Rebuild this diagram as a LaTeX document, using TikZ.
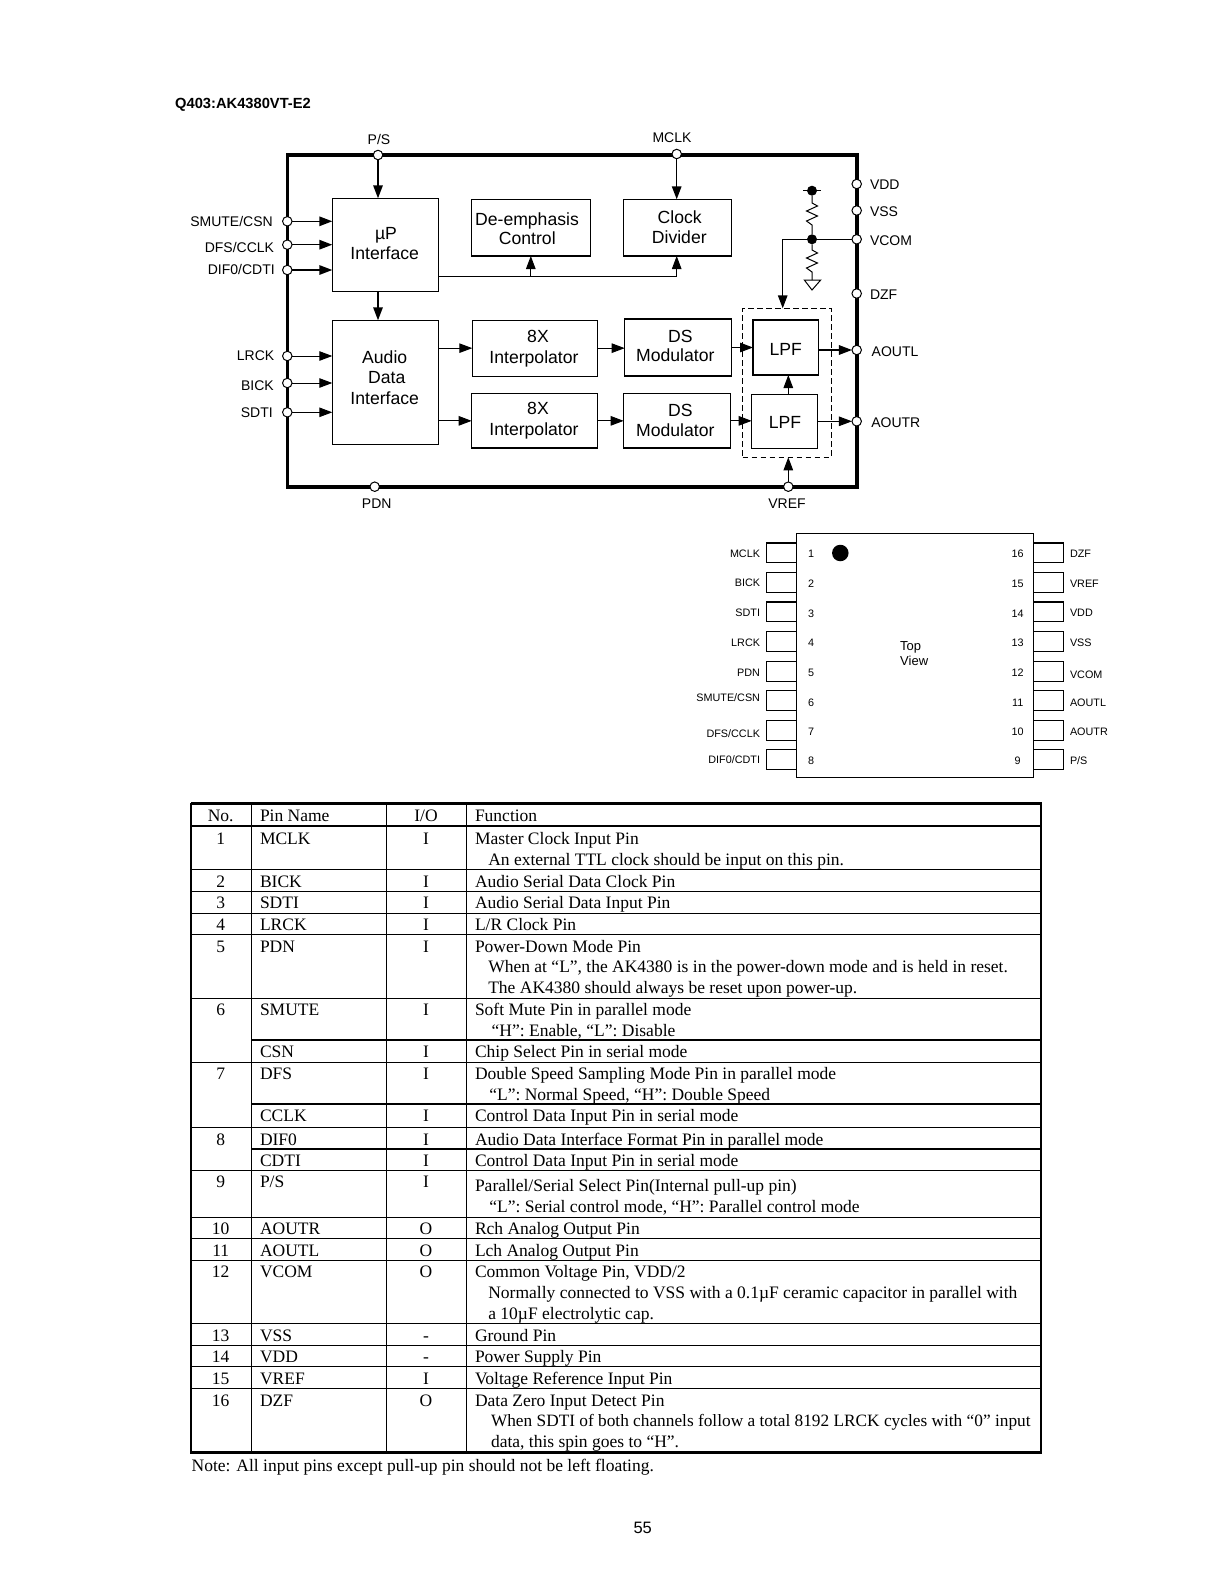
\documentclass[tikz,border=0pt]{standalone}
\usepackage{fontspec}
\setmainfont{Liberation Serif}
\newfontfamily\arialf{Liberation Sans}
\usetikzlibrary{arrows.meta,calc}
\newcounter{tnum}
\tikzset{
  px/.style={x=1pt,y=-1pt},
  thickbox/.style={draw,line width=1.5pt,inner sep=0pt,outer sep=0pt},
  thinbox/.style={draw,line width=1pt,inner sep=0pt,outer sep=0pt},
  pinc/.style={circle,draw,fill=white,line width=1pt,minimum size=9.5pt,inner sep=0pt,outer sep=0pt},
  jdot/.style={circle,fill=black,minimum size=10pt,inner sep=0pt,outer sep=0pt},
  arr/.style={-{Triangle[length=13pt,width=9.5pt]},line width=1.5pt},
  arrthin/.style={-{Triangle[length=13pt,width=9.5pt]},line width=1pt},
  wire/.style={line width=1pt},
  lab/.style={font=\arialf\fontsize{14}{14}\selectfont,inner sep=0pt,outer sep=0pt,text height=10pt,text depth=0pt},
  boxt/.style={font=\arialf\fontsize{17.6}{18}\selectfont,inner sep=0pt,outer sep=0pt,text height=12.6pt,text depth=0pt},
  small/.style={font=\arialf\fontsize{10.8}{11}\selectfont,inner sep=0pt,outer sep=0pt,text height=7.8pt,text depth=0pt},
  tabt/.style={font=\fontsize{17.5}{18}\selectfont,inner sep=0pt,outer sep=0pt},
  rowline/.style={line width=.9pt},
  rowthick/.style={line width=1.7pt}
}
% box by corners
\newcommand{\bx}[6]{\node[#6,minimum width={(#4-#2)*1pt},minimum height={(#5-#3)*1pt}] (#1) at ({(#2+#4)/2},{(#3+#5)/2}) {};}
\newcommand{\TL}[3]{\stepcounter{tnum}\node[tabt,anchor=base west] (t\arabic{tnum}) at (#1,#2+.5) {#3};}
\newcommand{\TC}[3]{\stepcounter{tnum}\node[tabt,anchor=base] (t\arabic{tnum}) at (#1,#2+.5) {#3};}
\newcommand{\BT}[3]{\stepcounter{tnum}\node[boxt] (t\arabic{tnum}) at (#1,#2) {#3};}
\begin{document}
\begin{tikzpicture}[px]
\useasboundingbox (0,0) rectangle (1219,1582);
\fill[white] (0,0) rectangle (1219,1582);
% title
\node[font=\arialf\bfseries\fontsize{14.7}{15}\selectfont,anchor=base west,inner sep=0pt] (title) at (175,108.3) {Q403:AK4380VT-E2};
% frame
\bx{frame}{287.3}{155}{856.7}{486.7}{draw,line width=3.6pt,inner sep=0pt,outer sep=0pt}
% pins
\node[pinc] (pPS) at (378,155) {};
\node[pinc] (pMCLK) at (676.7,154) {};
\node[pinc] (pSMUTE) at (287.3,221.3) {};
\node[pinc] (pDFS) at (287.3,244.7) {};
\node[pinc] (pDIF) at (287.3,270) {};
\node[pinc] (pLRCK) at (287.3,356) {};
\node[pinc] (pBICK) at (287.3,383) {};
\node[pinc] (pSDTI) at (287.3,412.3) {};
\node[pinc] (pPDN) at (374.7,486.7) {};
\node[pinc] (pVREF) at (788.3,486.7) {};
\node[pinc] (pVDD) at (856.7,184) {};
\node[pinc] (pVSS) at (856.7,210.5) {};
\node[pinc] (pVCOM) at (856.7,239.3) {};
\node[pinc] (pDZF) at (856.7,293.5) {};
\node[pinc] (pAOUTL) at (856.7,350) {};
\node[pinc] (pAOUTR) at (856.7,421.3) {};
% pin labels
\node[lab] (lPS) at (379,139) {P/S};
\node[lab] (lMCLK) at (672,137.2) {MCLK};
\node[lab,anchor=east] (lSMUTE) at (272.7,221) {SMUTE/CSN};
\node[lab,anchor=east] (lDFS) at (274,247) {DFS/CCLK};
\node[lab,anchor=east] (lDIF) at (274.7,269) {DIF0/CDTI};
\node[lab,anchor=east] (lLRCK) at (274.3,355) {LRCK};
\node[lab,anchor=east] (lBICK) at (273.7,385) {BICK};
\node[lab,anchor=east] (lSDTI) at (272.7,412.3) {SDTI};
\node[lab] (lPDN) at (376.7,503.3) {PDN};
\node[lab] (lVREF) at (787,503.5) {VREF};
\node[lab,anchor=west] (lVDD) at (870,184.7) {VDD};
\node[lab,anchor=west] (lVSS) at (870,211.7) {VSS};
\node[lab,anchor=west] (lVCOM) at (870,240.3) {VCOM};
\node[lab,anchor=west] (lDZF) at (870,294.7) {DZF};
\node[lab,anchor=west] (lAOUTL) at (871.7,351.7) {AOUTL};
\node[lab,anchor=west] (lAOUTR) at (871.3,422.7) {AOUTR};
% blocks
\bx{up}{332.3}{198.3}{438.3}{291.3}{thickbox}
\bx{audio}{332.3}{320.3}{438.3}{444.3}{thinbox}
\bx{deemph}{471.3}{199.3}{590.3}{256}{thickbox}
\bx{clock}{623.7}{199.3}{731.3}{256}{thickbox}
\bx{itop}{472.3}{320.3}{597.3}{376}{thinbox}
\bx{ibot}{471.7}{393.7}{597.3}{448}{thickbox}
\bx{dstop}{624.7}{319}{731.3}{376}{thickbox}
\bx{dsbot}{623.7}{393.7}{730.3}{448}{thickbox}
\bx{lpftop}{753}{320}{818.3}{375}{thickbox}
\bx{lpfbot}{751.7}{394.3}{817.7}{448}{thinbox}
\bx{group}{742.7}{308.3}{831.3}{457.3}{draw,dash pattern=on 5.5pt off 3.5pt,line width=.9pt,inner sep=0pt,outer sep=0pt}
% block text
\BT{386}{233}{µP}
\BT{384.7}{253.3}{Interface}
\BT{384.7}{357}{Audio}
\BT{386.7}{377}{Data}
\BT{384.7}{397.7}{Interface}
\BT{527}{219}{De-emphasis}
\BT{527.3}{238.5}{Control}
\BT{679.7}{217}{Clock}
\BT{679.3}{237.2}{Divider}
\BT{538}{335.7}{8X}
\BT{534}{356.7}{Interpolator}
\BT{538}{407.7}{8X}
\BT{534}{429.3}{Interpolator}
\BT{680.3}{335.7}{DS}
\BT{675.3}{355}{Modulator}
\BT{680.3}{410}{DS}
\BT{675.3}{430}{Modulator}
\BT{785.7}{348.7}{LPF}
\BT{785}{421.7}{LPF}
% connectors
\draw[arr] (pPS.south) -- (pPS.south |- up.north);
\draw[arr] (pMCLK.south) -- (pMCLK.south |- clock.north);
\draw[arr] (pPS.south |- up.south) -- (pPS.south |- audio.north);
\draw[arr] (pSMUTE.east) -- (pSMUTE.east -| up.west);
\draw[arr] (pDFS.east) -- (pDFS.east -| up.west);
\draw[arr] (pDIF.east) -- (pDIF.east -| up.west);
\draw[arrthin] (pLRCK.east) -- (pLRCK.east -| audio.west);
\draw[arrthin] (pBICK.east) -- (pBICK.east -| audio.west);
\draw[arrthin] (pSDTI.east) -- (pSDTI.east -| audio.west);
\coordinate (busL) at (438.3,276);
\draw[arrthin] (busL) -| (pMCLK.south |- clock.south);
\draw[arrthin] (deemph.south |- busL) -- (deemph.south);
\draw[arrthin] (audio.east |- itop.west) -- (itop.west);
\draw[arrthin] (audio.east |- ibot.west) -- (ibot.west);
\draw[arrthin] (itop.east) -- (itop.east -| dstop.west);
\draw[arrthin] (ibot.east) -- (ibot.east -| dsbot.west);
\draw[arrthin] (dstop.east) -- (dstop.east -| lpftop.west);
\draw[arrthin] (dsbot.east) -- (dsbot.east -| lpfbot.west);
\draw[arr] (pAOUTL.west -| lpftop.east) -- (pAOUTL.west);
\draw[arrthin] (pAOUTR.west -| lpfbot.east) -- (pAOUTR.west);
\draw[arrthin] (pVREF.north |- lpfbot.north) -- (pVREF.north |- lpftop.south);
\draw[arrthin] (pVREF.north) -- (pVREF.north |- group.south);
% VCOM network
\node[jdot] (jtop) at (812,190.7) {};
\node[jdot] (jmid) at (812,239.3) {};
\coordinate (vcin) at (782.7,308.3);
\draw[line width=1.4pt] (pVCOM.west) -- (jmid);
\draw[arrthin,line width=1.4pt] (jmid) -| (vcin);
\draw[wire] (803,190.7) -- (820.7,190.7);
\draw[wire] (jtop) -- (812,203) -- (817.5,206) -- (806.5,211) -- (817.5,216) -- (806.5,221) -- (812,225) -- (jmid);
\coordinate (gnd) at (812,280);
\draw[wire] (jmid) -- (812,250) -- (817.5,253) -- (806.5,258) -- (817.5,263) -- (806.5,268) -- (812,272) -- (gnd);
\draw[wire,line join=miter] (804.3,280) -- (820.7,280) -- (812,290) -- cycle;
% chip
\bx{chip}{796.3}{533.3}{1033.3}{777}{draw,line width=1pt,inner sep=0pt,outer sep=0pt}
\node[circle,fill=black,minimum size=16.5pt,inner sep=0pt] (chipdot) at (840.3,553) {};
\foreach \yt/\ny/\nm/\lbl/\ly in {542.7/554/1/MCLK/553.3,572.3/584/2/BICK/582.7,601.7/613.3/3/SDTI/612.3,631.3/643/4/LRCK/643,661.3/672.3/5/PDN/672.3,690.7/702.3/6/SMUTE\slash CSN/698,720.3/731.3/7/DFS\slash CCLK/733.7,749.3/760.7/8/DIF0\slash CDTI/760}{
  \bx{lp\nm}{766.3}{\yt}{796.3}{\yt+20}{draw,line width=1pt,inner sep=0pt,outer sep=0pt}
  \node[small] (ln\nm) at (811,\ny) {\nm};
  \node[small,anchor=east] (ll\nm) at (760,\ly) {\lbl};
}
\foreach \yt/\ny/\nm/\lbl/\ly in {542.7/554/16/DZF/554,572.3/584/15/VREF/583.3,601.7/613.3/14/VDD/613,631.3/643/13/VSS/643,661.3/672.3/12/VCOM/674.3,690.7/702.3/11/AOUTL/702.3,720.3/731.3/10/AOUTR/731.3,749.3/760.7/9/P\slash S/760.3}{
  \bx{rp\nm}{1033.3}{\yt}{1063.3}{\yt+20}{draw,line width=1pt,inner sep=0pt,outer sep=0pt}
  \node[small] (rn\nm) at (1017.7,\ny) {\nm};
  \node[small,anchor=west] (rl\nm) at (1070,\ly) {\lbl};
}
\draw[line width=1.6pt] (lp1.north west) -- (lp1.north east);
\draw[line width=1.6pt] (lp3.north west) -- (lp3.north east);
\draw[line width=1.6pt] (rp16.north west) -- (rp16.north east);
\draw[line width=1.6pt] (rp14.north west) -- (rp14.north east);
\node[font=\arialf\fontsize{13}{13}\selectfont,inner sep=0pt,anchor=west,text height=9.3pt,text depth=0pt] (tv1) at (900,646) {Top};
\node[font=\arialf\fontsize{13}{13}\selectfont,inner sep=0pt,anchor=west,text height=9.3pt,text depth=0pt] (tv2) at (900,661) {View};
% table grid
\foreach \y in {869.3,891.3,913.3,934.3,998.3,1062,1127,1170.7,1217.3,1238.3,1260.3,1323.3,1345.3,1366.7,1388.7}
  \draw[rowline] (191,\y) -- (1040.7,\y);
\foreach \y in {1040,1104,1149}
  \draw[rowthick] (251.3,\y) -- (1040.7,\y);
\draw[line width=2.4pt] (191,826) -- (1040.7,826);
\foreach \x in {251.3,386.3,466.3}
  \draw[rowline] (\x,803.3) -- (\x,1452.3);
\draw[line width=2.4pt] (191,803.3) -- (1040.7,803.3) -- (1040.7,1452.3);
\draw[line width=2.4pt] (191,803.3) -- (191,1452.3);
\draw[line width=3pt,line cap=rect] (191,1452.3) -- (1040.7,1452.3);
% table text
\newcommand{\Row}[5]{\TC{220.7}{#1}{#2}\TL{260}{#1}{#3}\TC{426}{#1}{#4}\TL{475}{#1}{#5}}
\TC{220.7}{820.7}{No.}\TL{260}{820.7}{Pin Name}\TC{426}{820.7}{I/O}\TL{475}{820.7}{Function}
\Row{844.3}{1}{MCLK}{I}{Master Clock Input Pin}
\TL{488.3}{865}{An external TTL clock should be input on this pin.}
\Row{886.7}{2}{BICK}{I}{Audio Serial Data Clock Pin}
\Row{908.3}{3}{SDTI}{I}{Audio Serial Data Input Pin}
\Row{930}{4}{LRCK}{I}{L/R Clock Pin}
\Row{951.7}{5}{PDN}{I}{Power-Down Mode Pin}
\TL{488.3}{972.3}{When at “L”, the AK4380 is in the power-down mode and is held in reset.}
\TL{488.3}{993}{The AK4380 should always be reset upon power-up.}
\Row{1015}{6}{SMUTE}{I}{Soft Mute Pin in parallel mode}
\TL{491.7}{1035.7}{“H”: Enable, “L”: Disable}
\TL{260}{1057.3}{CSN}\TC{426}{1057.3}{I}\TL{475}{1057.3}{Chip Select Pin in serial mode}
\Row{1079}{7}{DFS}{I}{Double Speed Sampling Mode Pin in parallel mode}
\TL{489.3}{1099.7}{“L”: Normal Speed, “H”: Double Speed}
\TL{260}{1121.3}{CCLK}\TC{426}{1121.3}{I}\TL{475}{1121.3}{Control Data Input Pin in serial mode}
\Row{1144.7}{8}{DIF0}{I}{Audio Data Interface Format Pin in parallel mode}
\TL{260}{1166}{CDTI}\TC{426}{1166}{I}\TL{475}{1166}{Control Data Input Pin in serial mode}
\TC{220.7}{1187.3}{9}\TL{260}{1187.3}{P/S}\TC{426}{1187.3}{I}\TL{475}{1190.7}{Parallel/Serial Select Pin(Internal pull-up pin)}
\TL{489.3}{1212.3}{“L”: Serial control mode, “H”: Parallel control mode}
\Row{1234}{10}{AOUTR}{O}{Rch Analog Output Pin}
\Row{1256}{11}{AOUTL}{O}{Lch Analog Output Pin}
\Row{1277.3}{12}{VCOM}{O}{Common Voltage Pin, VDD/2}
\TL{488.3}{1298.3}{Normally connected to VSS with a 0.1µF ceramic capacitor in parallel with}
\TL{488.3}{1319}{a 10µF electrolytic cap.}
\Row{1340.7}{13}{VSS}{-}{Ground Pin}
\Row{1362}{14}{VDD}{-}{Power Supply Pin}
\Row{1383.7}{15}{VREF}{I}{Voltage Reference Input Pin}
\Row{1405.7}{16}{DZF}{O}{Data Zero Input Detect Pin}
\TL{491}{1426}{\fontsize{17.3}{18}\selectfont When SDTI of both channels follow a total 8192 LRCK cycles with “0” input}
\TL{491}{1447.3}{data, this spin goes to “H”.}
\TL{191.7}{1470.7}{Note: All input pins except pull-up pin should not be left floating.}
\node[font=\arialf\fontsize{16.5}{17}\selectfont,anchor=base west,inner sep=0pt] (pageno) at (633.3,1533.3) {55};
\end{tikzpicture}
\end{document}
